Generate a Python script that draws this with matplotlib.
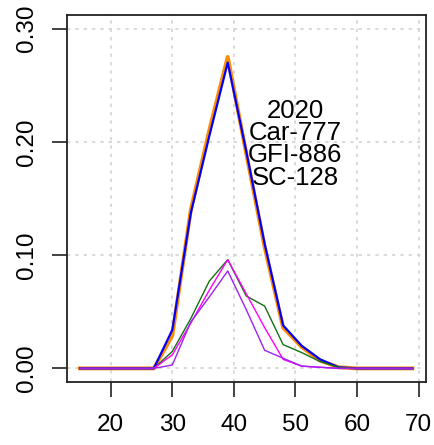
import matplotlib
matplotlib.use("Agg")
import matplotlib.pyplot as plt

plt.rcParams['font.family'] = ['Liberation Sans', 'DejaVu Sans']

size_cm = [15, 18, 21, 24, 27, 30, 33, 36, 39, 42, 45, 48, 51, 54, 57, 60, 63, 66, 69]
total_a = [0, 0, 0, 0, 0, 0.029, 0.140, 0.210, 0.275, 0.190, 0.107, 0.036, 0.019, 0.007, 0.001, 0, 0, 0, 0]
total_b = [0, 0, 0, 0, 0, 0.034, 0.137, 0.205, 0.270, 0.192, 0.110, 0.038, 0.020, 0.008, 0.001, 0, 0, 0, 0]
car777 = [0, 0, 0, 0, 0, 0.015, 0.044, 0.077, 0.096, 0.064, 0.055, 0.021, 0.014, 0.006, 0.001, 0, 0, 0, 0]
gfi886 = [0, 0, 0, 0, 0, 0.012, 0.040, 0.069, 0.096, 0.066, 0.036, 0.008, 0.002, 0.001, 0, 0, 0, 0, 0]
sc128 = [0, 0, 0, 0, 0, 0.003, 0.041, 0.063, 0.086, 0.052, 0.016, 0.009, 0.002, 0.001, 0, 0, 0, 0, 0]

x_ticks = [20, 30, 40, 50, 60, 70]
y_ticks = [0.00, 0.10, 0.20, 0.30]
y_labels = ["0.00", "0.10", "0.20", "0.30"]
label_lines = ["2020", "Car-777", "GFI-886", "SC-128"]

fig = plt.figure(figsize=(4.35, 4.45), dpi=100)
ax = fig.add_axes([0.1533, 0.1416, 0.8253, 0.8247])

for xv in x_ticks:
    ax.axvline(xv, color="#d3d3d3", lw=1.2, ls=(0, (2, 3)), zorder=0)
for yv in y_ticks:
    ax.axhline(yv, color="#d3d3d3", lw=1.2, ls=(0, (2, 3)), zorder=0)

ax.plot(size_cm, total_a, color="#FF8C00", lw=2.8)
ax.plot(size_cm, total_b, color="#0000FF", lw=1.6)
ax.plot(size_cm, car777, color="#137013", lw=1.0)
ax.plot(size_cm, gfi886, color="#FF00FF", lw=1.0)
ax.plot(size_cm, sc128, color="#A020F0", lw=1.0)

ax.set_xlim(12.84, 71.16)
ax.set_ylim(-0.012, 0.312)
ax.set_xticks(x_ticks)
ax.set_yticks(y_ticks)
ax.set_yticklabels(y_labels, rotation=90, va="center")
ax.tick_params(axis="both", direction="out", length=11, width=1.3,
               color="#333333", labelsize=17.5)
ax.tick_params(axis="x", pad=12)
ax.tick_params(axis="y", pad=10)

for s in ax.spines.values():
    s.set_linewidth(1.3)
    s.set_color("#222222")

y0 = 0.227
dy = 0.0195
for i, t in enumerate(label_lines):
    ax.text(50, y0 - i * dy, t, ha="center", va="center", fontsize=18.5)

fig.savefig("out.png", dpi=100)
